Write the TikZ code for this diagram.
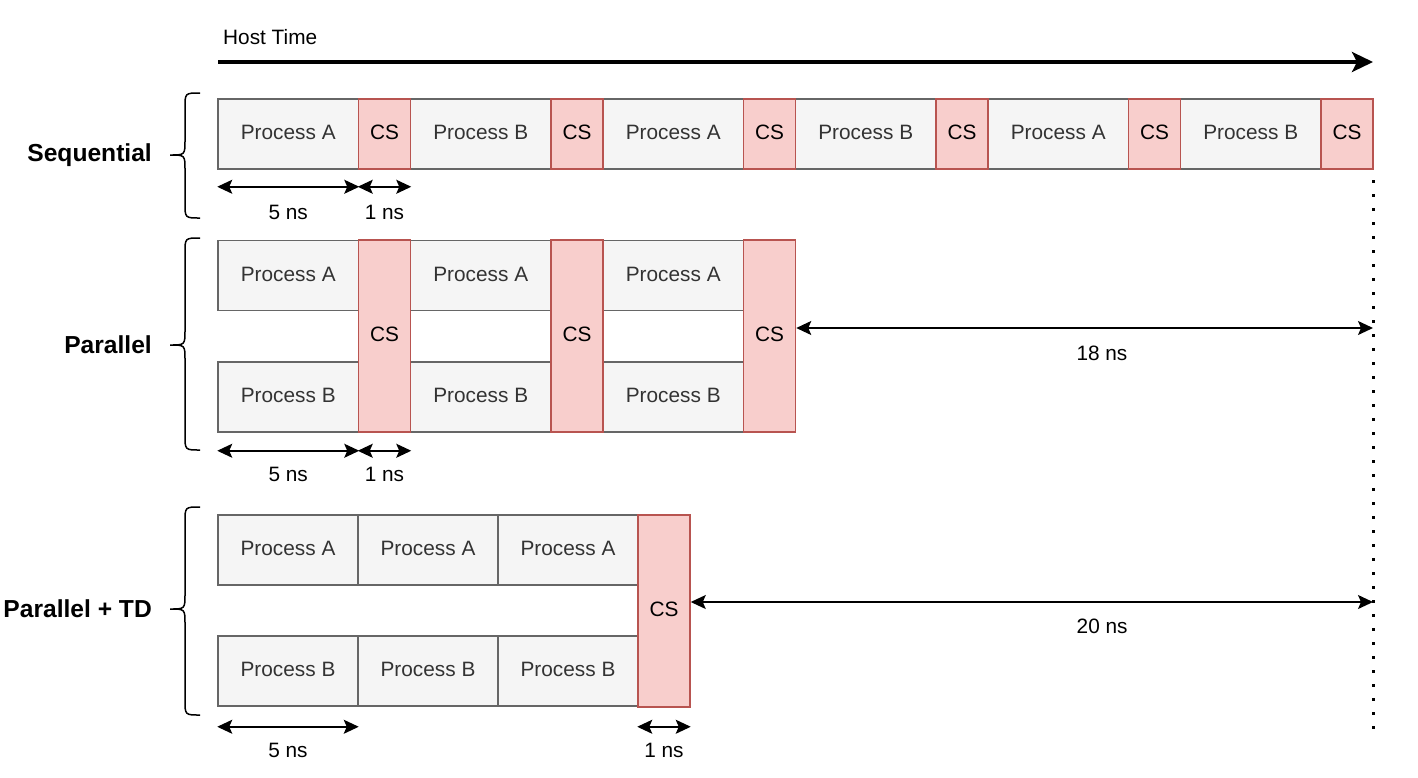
\documentclass[tikz,border=0pt]{standalone}
\usepackage{fontspec}
\setmainfont{Liberation Sans}
\usepackage{tikz}
\usetikzlibrary{arrows.meta}

\definecolor{procfill}{HTML}{F5F5F5}
\definecolor{procline}{HTML}{666666}
\definecolor{proctext}{HTML}{333333}
\definecolor{csfill}{HTML}{F8CECC}
\definecolor{csline}{HTML}{B85450}

\tikzset{
  boxfont/.style={font=\fontsize{20.8}{24}\selectfont},
  proc/.style={boxfont, draw=procline, fill=procfill, line width=1.5pt, text=proctext,
               minimum width=140.5pt, minimum height=70pt, inner sep=0pt,
               text height=15pt, text depth=4pt},
  cs/.style={boxfont, draw=csline, fill=csfill, line width=1.5pt,
             minimum width=52pt, minimum height=70pt, inner sep=0pt,
             text height=15pt, text depth=4pt},
  tall/.style={minimum height=192pt},
  dimarrow/.style={{Stealth[length=15pt,width=14pt,inset=3pt]}-{Stealth[length=15pt,width=14pt,inset=3pt]}, line width=1.5pt},
  timearrow/.style={-{Stealth[length=21pt,width=20pt,inset=5pt]}, line width=3.5pt},
  dotline/.style={line width=3pt, dash pattern=on 3pt off 11pt},
  dimlabel/.style={boxfont, inner sep=0pt},
  rowlabel/.style={anchor=east, inner sep=0pt, font=\bfseries\fontsize{24.6}{28}\selectfont}
}

% curly bracket: top, middle, bottom
\newcommand{\rowbrace}[3]{%
  \draw[line width=1.5pt] (200,#1) .. controls (185,#1) .. (185,#1+15) -- (185,#2-15)
    .. controls (185,#2) .. (170,#2) .. controls (185,#2) .. (185,#2+15) -- (185,#3-15)
    .. controls (185,#3) .. (200,#3);}

\begin{document}
\begin{tikzpicture}[x=1pt, y=-1pt]
  \useasboundingbox (0,0) rectangle (1418,777);

  % time axis
  \node[boxfont, anchor=west, inner sep=0pt] (htime) at (223,37) {Host Time};
  \coordinate (tstart) at (218,62);
  \coordinate (tend) at (1373,62);
  \draw[timearrow] (tstart) -- (tend);

  % sequential
  \foreach \i/\p in {0/A,1/B,2/A,3/B,4/A,5/B}
    \node[proc] (s\i) at (288.25+192.5*\i,134) {Process \p};
  \foreach \i in {0,...,5}
    \node[cs] (sc\i) at (384.5+192.5*\i,134) {CS};
  \draw[dimarrow] ([yshift=-17pt]s0.south west) -- ([yshift=-17pt]s0.south east)
    node[dimlabel, midway, yshift=-26pt] {5 ns};
  \draw[dimarrow] ([yshift=-17pt]sc0.south west) -- ([yshift=-17pt]sc0.south east)
    node[dimlabel, midway, yshift=-26pt] {1 ns};
  \node[rowlabel] (lseq) at (152,155) {Sequential};
  \rowbrace{93}{155}{218}

  % parallel
  \foreach \i in {0,1,2} {
    \node[proc] (pa\i) at (288.25+192.5*\i,275.5) {Process A};
    \node[proc] (pb\i) at (288.25+192.5*\i,397) {Process B};
  }
  \foreach \i in {0,1,2}
    \node[cs, tall] (pc\i) at (384.5+192.5*\i,336) {CS};
  \draw[dimarrow] ([yshift=-18pt]pb0.south west) -- ([yshift=-18pt]pb0.south east)
    node[dimlabel, midway, yshift=-24pt] {5 ns};
  \draw[dimarrow] ([yshift=-18pt]pc0.south west) -- ([yshift=-18pt]pc0.south east)
    node[dimlabel, midway, yshift=-24pt] {1 ns};
  \node[rowlabel] (lpar) at (152,345) {Parallel};
  \rowbrace{238}{345}{450}

  % parallel + TD
  \foreach \i in {0,1,2} {
    \node[proc, minimum width=140pt] (ta\i) at (288+140*\i,550) {Process A};
    \node[proc, minimum width=140pt] (tb\i) at (288+140*\i,671) {Process B};
  }
  \node[cs, tall] (tc) at (664,611) {CS};
  \draw[dimarrow] ([yshift=-20pt]tb0.south west) -- ([yshift=-20pt]tb0.south east)
    node[dimlabel, midway, yshift=-24pt] {5 ns};
  \draw[dimarrow] ([yshift=-19pt]tc.south west) -- ([yshift=-19pt]tc.south east)
    node[dimlabel, midway, yshift=-24pt] {1 ns};
  \node[rowlabel] (ltd) at (152,609) {Parallel + TD};
  \rowbrace{507}{609}{715}

  % end of sequential run
  \coordinate (dtop) at (1373,180);
  \coordinate (dbot) at (1373,732);
  \draw[dotline] (dtop) -- (dbot);

  % savings
  \draw[dimarrow] ([yshift=8pt]pc2.east) -- ([yshift=8pt]pc2.east -| dtop)
    node[dimlabel, pos=0.53, yshift=-25pt] {18 ns};
  \draw[dimarrow] ([yshift=9pt]tc.east) -- ([yshift=9pt]tc.east -| dtop)
    node[dimlabel, pos=0.603, yshift=-24pt] {20 ns};
\end{tikzpicture}
\end{document}
